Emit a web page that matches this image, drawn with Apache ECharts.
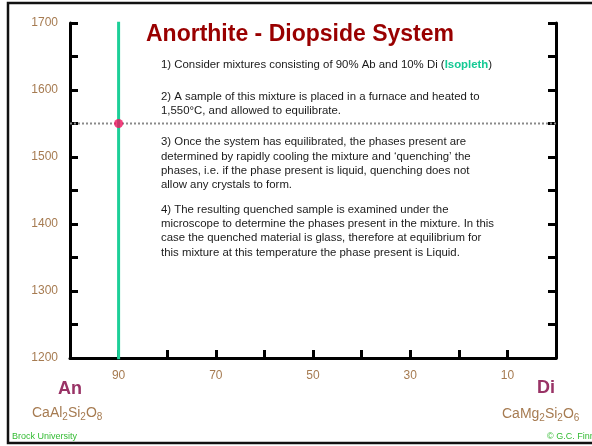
<!DOCTYPE html>
<html>
<head>
<meta charset="utf-8">
<script src="https://cdn.jsdelivr.net/npm/echarts@6/dist/echarts.min.js"></script>
<style>
    html, body { margin: 0; padding: 0; background: #fff; }
    #chart { width: 592px; height: 446px; }
</style>
</head>
<body>
<div id="chart"></div>
<script>
// temperature axis (°C) and composition axis (% An)
var tempRange = [1200, 1700];
var tempStep = 50;
var compRange = [0, 100];
var compStep = 10;
var compLabels = [90, 70, 50, 30, 10];

// the isopleth and the run temperature
var isopleth = 90;
var runTemp = 1550;

var titleText = 'Anorthite - Diopside System';
var steps = [
    '1) Consider mixtures consisting of 90% Ab and 10% Di (',
    '2) A sample of this mixture is placed in a furnace and heated to\n1,550°C, and allowed to equilibrate.',
    '3) Once the system has equilibrated, the phases present are\ndetermined by rapidly cooling the mixture and \u2018quenching\u2019 the\nphases, i.e. if the phase present is liquid, quenching does not\nallow any crystals to form.',
    '4) The resulting quenched sample is examined under the\nmicroscope to determine the phases present in the mixture. In this\ncase the quenched material is glass, therefore at equilibrium for\nthis mixture at this temperature the phase present is Liquid.'
];

var brown = '#a67b51';
var fam = '"Liberation Sans", Arial, sans-serif';
var textFont = '11.4px ' + fam;

var chart = echarts.init(document.getElementById('chart'));

var axisTick = {
    show: true,
    inside: true,
    length: 8,
    lineStyle: { color: '#000', width: 3 }
};

var option = {
    animation: false,
    backgroundColor: '#fff',
    textStyle: { fontFamily: fam },
    grid: {
        left: 70,
        right: 36,
        top: 23,
        bottom: 88
    },
    xAxis: {
        type: 'value',
        min: compRange[0],
        max: compRange[1],
        interval: compStep,
        inverse: true,
        splitLine: { show: false },
        axisLine: { show: true, onZero: false, lineStyle: { color: '#000', width: 3 } },
        axisTick: axisTick,
        axisLabel: {
            color: brown,
            fontSize: 12,
            margin: 12,
            formatter: function (v) {
                return compLabels.indexOf(v) >= 0 ? String(v) : '';
            }
        }
    },
    yAxis: [
        {
            type: 'value',
            position: 'left',
            min: tempRange[0],
            max: tempRange[1],
            interval: tempStep,
            splitLine: { show: false },
            axisLine: { show: true, onZero: false, lineStyle: { color: '#000', width: 3 } },
            axisTick: axisTick,
            axisLabel: {
                color: brown,
                fontSize: 12,
                margin: 12,
                formatter: function (v) {
                    return v % 100 === 0 ? String(v) : '';
                }
            }
        },
        {
            type: 'value',
            position: 'right',
            min: tempRange[0],
            max: tempRange[1],
            interval: tempStep,
            splitLine: { show: false },
            axisLine: { show: true, onZero: false, lineStyle: { color: '#000', width: 3 } },
            axisTick: axisTick,
            axisLabel: { show: false }
        }
    ],
    series: [
        {
            // isopleth
            type: 'line',
            data: [[isopleth, tempRange[0]], [isopleth, tempRange[1]]],
            symbol: 'none',
            lineStyle: { color: '#1ccf98', width: 3, cap: 'square' },
            z: 3
        },
        {
            // run temperature
            type: 'line',
            data: [[compRange[1], runTemp], [compRange[0], runTemp]],
            symbol: 'none',
            lineStyle: { color: '#8a8a8a', width: 2, type: [2, 2] },
            z: 2
        },
        {
            type: 'scatter',
            data: [[isopleth, runTemp]],
            symbolSize: 9,
            itemStyle: { color: '#f0135f' },
            z: 5
        }
    ],
    graphic: [
        {
            type: 'rect',
            shape: { x: 8, y: 3, width: 600, height: 440 },
            style: { fill: 'none', stroke: '#111', lineWidth: 2.5 },
            z: 10
        },
        {
            type: 'text',
            x: 146, y: 35,
            style: {
                text: titleText,
                font: 'bold 23px ' + fam,
                fill: '#990000',
                textVerticalAlign: 'middle'
            }
        },
        {
            type: 'text',
            x: 161, y: 58,
            style: {
                text: '{t|' + steps[0] + '}{g|Isopleth}{t|)}',
                font: textFont,
                rich: {
                    t: { fontSize: 11.4, lineHeight: 14, fill: '#1a1a1a', fontFamily: fam },
                    g: { fontSize: 11.4, lineHeight: 14, fill: '#14c994', fontWeight: 'bold', fontFamily: fam }
                }
            }
        },
        {
            type: 'text',
            x: 161, y: 89.5,
            style: { text: steps[1], font: textFont, fill: '#1a1a1a', lineHeight: 14.5 }
        },
        {
            type: 'text',
            x: 161, y: 135,
            style: { text: steps[2], font: textFont, fill: '#1a1a1a', lineHeight: 14.3 }
        },
        {
            type: 'text',
            x: 161, y: 202.5,
            style: { text: steps[3], font: textFont, fill: '#1a1a1a', lineHeight: 14.3 }
        },
        {
            type: 'text',
            x: 58, y: 389,
            style: {
                text: 'An',
                font: 'bold 18px ' + fam,
                fill: '#993366',
                textVerticalAlign: 'middle'
            }
        },
        {
            type: 'text',
            x: 537, y: 388,
            style: {
                text: 'Di',
                font: 'bold 18px ' + fam,
                fill: '#993366',
                textVerticalAlign: 'middle'
            }
        },
        {
            type: 'text',
            x: 32, y: 404,
            style: {
                text: '{n|CaAl}{s|2}{n|Si}{s|2}{n|O}{s|8}',
                rich: {
                    n: { fontSize: 14, lineHeight: 18, fill: brown, fontFamily: fam },
                    s: { fontSize: 10, lineHeight: 18, fill: brown, verticalAlign: 'bottom', fontFamily: fam }
                }
            }
        },
        {
            type: 'text',
            x: 502, y: 405,
            style: {
                text: '{n|CaMg}{s|2}{n|Si}{s|2}{n|O}{s|6}',
                rich: {
                    n: { fontSize: 14, lineHeight: 18, fill: brown, fontFamily: fam },
                    s: { fontSize: 10, lineHeight: 18, fill: brown, verticalAlign: 'bottom', fontFamily: fam }
                }
            }
        },
        {
            type: 'text',
            x: 12, y: 437,
            style: {
                text: 'Brock University',
                font: '9px ' + fam,
                fill: '#33bb33',
                textVerticalAlign: 'middle'
            }
        },
        {
            type: 'text',
            x: 547, y: 437,
            style: {
                text: '\u00a9 G.C. Finn',
                font: '9px ' + fam,
                fill: '#33bb33',
                textVerticalAlign: 'middle'
            }
        }
    ]
};

chart.setOption(option);
window.onresize = chart.resize;
</script>
</body>
</html>
